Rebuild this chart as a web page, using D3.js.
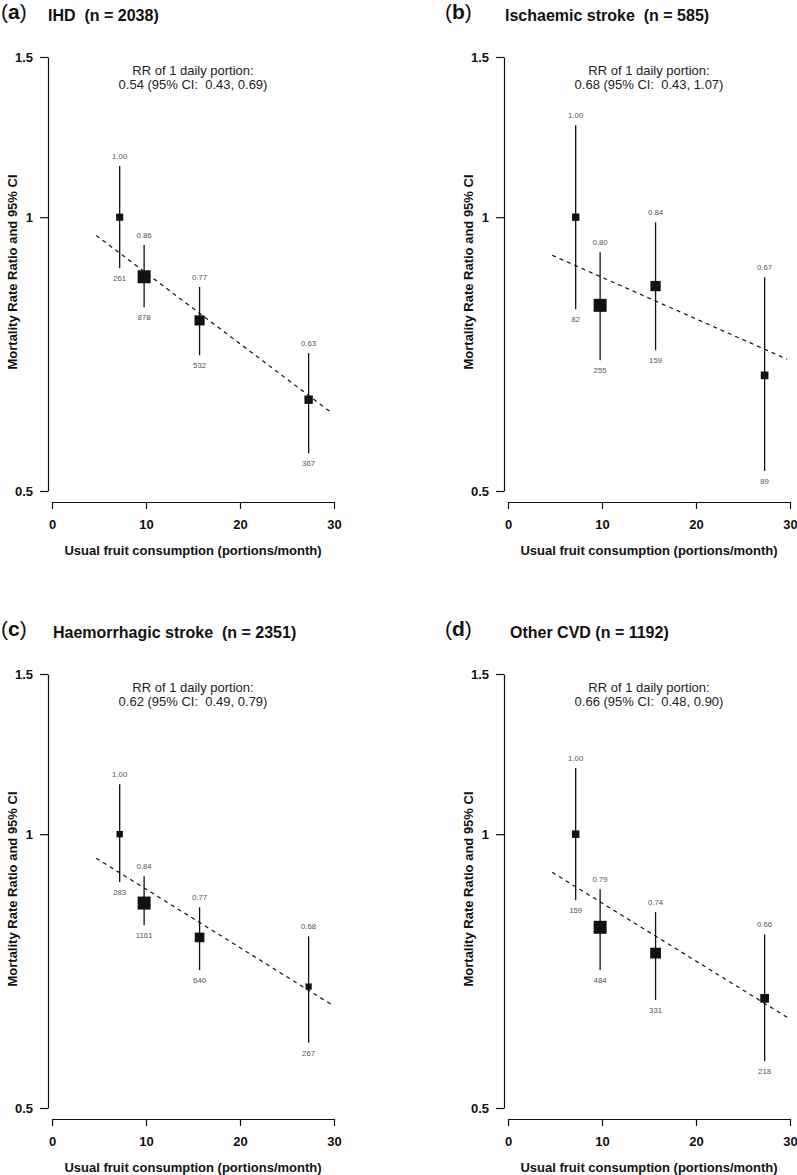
<!DOCTYPE html>
<html>
<head>
<meta charset="utf-8">
<script src="https://cdn.jsdelivr.net/npm/d3@7"></script>
<style>
body { margin: 0; background: #fff; }
svg { display: block; font-family: "Liberation Sans", Arial, Helvetica, sans-serif; }
</style>
</head>
<body>
<script>
//数据
var consumption = [7.2, 9.8, 15.7, 27.3];
var panelLetters = ["a", "b", "c", "d"];
var panelTitles = ["IHD  (n = 2038)", "Ischaemic stroke  (n = 585)", "Haemorrhagic stroke  (n = 2351)", "Other CVD (n = 1192)"];
var rrDaily = [0.54, 0.68, 0.62, 0.66];
var rrDailyLo = [0.43, 0.43, 0.49, 0.48];
var rrDailyHi = [0.69, 1.07, 0.79, 0.90];

var ihdRR = [1.00, 0.86, 0.77, 0.63];
var ihdLo = [0.879, 0.796, 0.705, 0.550];
var ihdHi = [1.138, 0.932, 0.838, 0.709];
var ihdDeaths = [261, 878, 532, 367];
var ihdTrend = [0.955, 0.610];

var ischRR = [1.00, 0.80, 0.84, 0.67];
var ischLo = [0.792, 0.696, 0.714, 0.526];
var ischHi = [1.262, 0.915, 0.987, 0.859];
var ischDeaths = [82, 255, 159, 89];
var ischTrend = [0.908, 0.698];

var haemRR = [1.00, 0.84, 0.77, 0.68];
var haemLo = [0.886, 0.794, 0.709, 0.590];
var haemHi = [1.135, 0.899, 0.831, 0.772];
var haemDeaths = [283, 1161, 640, 267];
var haemTrend = [0.941, 0.650];

var otherRR = [1.00, 0.79, 0.74, 0.66];
var otherLo = [0.846, 0.709, 0.657, 0.563];
var otherHi = [1.182, 0.870, 0.821, 0.776];
var otherDeaths = [159, 484, 331, 218];
var otherTrend = [0.908, 0.629];

var trendX = [4.7, 29.7];
var xTicks = [0, 10, 20, 30];
var yTicks = [0.5, 1, 1.5];
var yTickLabels = ["0.5", "1", "1.5"];

var panels = [
    { rr: ihdRR, lo: ihdLo, hi: ihdHi, deaths: ihdDeaths, trend: ihdTrend },
    { rr: ischRR, lo: ischLo, hi: ischHi, deaths: ischDeaths, trend: ischTrend },
    { rr: haemRR, lo: haemLo, hi: haemHi, deaths: haemDeaths, trend: haemTrend },
    { rr: otherRR, lo: otherLo, hi: otherHi, deaths: otherDeaths, trend: otherTrend }
];

//布局
var width = 797;
var height = 1175;
var colX = [0, 456];
var rowY = [0, 617];
var letterX = [1, 445];
var titleX = [48, 505, 53, 510];

var svg = d3.select("body").append("svg").attr("width", width).attr("height", height);
svg.append("rect").attr("width", width).attr("height", height).attr("fill", "#fff");

var x = d3.scaleLinear().domain([0, 30]).range([52, 334]);
var y = d3.scaleLog().domain([0.5, 1.5]).range([491, 57]);
var fmt = d3.format(".2f");

panels.forEach(function (p, i) {
    var col = i % 2;
    var row = Math.floor(i / 2);
    var g = svg.append("g").attr("transform", "translate(" + colX[col] + "," + rowY[row] + ")");
    var size = d3.scaleSqrt().domain([0, d3.max(p.deaths)]).range([0, 13]);

    //面板标题
    var letter = g.append("text")
        .attr("x", letterX[col] - colX[col])
        .attr("y", 19)
        .style("font-size", "21px")
        .style("fill", "#111");
    letter.append("tspan").text("(");
    letter.append("tspan").style("font-weight", "bold").text(panelLetters[i]);
    letter.append("tspan").text(")");

    g.append("text")
        .attr("x", titleX[i] - colX[col])
        .attr("y", 21)
        .style("font-size", "16px")
        .style("font-weight", "bold")
        .style("white-space", "pre")
        .style("fill", "#111")
        .text(panelTitles[i]);

    //RR文字
    var rrText = g.append("text")
        .attr("text-anchor", "middle")
        .style("font-size", "13px")
        .style("white-space", "pre")
        .style("fill", "#222");
    rrText.append("tspan").attr("x", 193).attr("y", 75).text("RR of 1 daily portion:");
    rrText.append("tspan").attr("x", 193).attr("y", 89)
        .text(fmt(rrDaily[i]) + " (95% CI:  " + fmt(rrDailyLo[i]) + ", " + fmt(rrDailyHi[i]) + ")");

    //坐标轴
    var yAxis = g.append("g").attr("transform", "translate(48,0)")
        .call(d3.axisLeft(y).tickValues(yTicks).tickFormat(function (d, k) { return yTickLabels[k]; })
            .tickSize(8).tickSizeOuter(0).tickPadding(7));
    var xAxis = g.append("g").attr("transform", "translate(0,502)")
        .call(d3.axisBottom(x).tickValues(xTicks).tickFormat(d3.format("d"))
            .tickSize(7).tickSizeOuter(0).tickPadding(11));
    [yAxis, xAxis].forEach(function (a) {
        a.attr("font-family", null).attr("font-size", null);
        a.selectAll("text").style("font-size", "13px").style("font-weight", "bold").style("fill", "#111");
        a.selectAll("path, line").style("stroke", "#111").style("stroke-width", 1.2);
    });

    g.append("text")
        .attr("x", 193)
        .attr("y", 555)
        .attr("text-anchor", "middle")
        .style("font-size", "13px")
        .style("font-weight", "bold")
        .style("fill", "#111")
        .text("Usual fruit consumption (portions/month)");
    g.append("text")
        .attr("transform", "translate(16.5,272) rotate(-90)")
        .attr("text-anchor", "middle")
        .style("font-size", "13px")
        .style("font-weight", "bold")
        .style("fill", "#111")
        .text("Mortality Rate Ratio and 95% CI");

    //趋势线
    g.append("line")
        .attr("x1", x(trendX[0])).attr("y1", y(p.trend[0]))
        .attr("x2", x(trendX[1])).attr("y2", y(p.trend[1]))
        .style("stroke", "#111")
        .style("stroke-width", 1.2)
        .style("stroke-dasharray", "4,4");

    //置信区间
    g.selectAll("line.ci").data(consumption).enter().append("line").classed("ci", true)
        .attr("x1", function (d) { return x(d); })
        .attr("x2", function (d) { return x(d); })
        .attr("y1", function (d, k) { return y(p.hi[k]); })
        .attr("y2", function (d, k) { return y(p.lo[k]); })
        .style("stroke", "#111")
        .style("stroke-width", 1.3);

    //方块
    g.selectAll("rect.pt").data(consumption).enter().append("rect").classed("pt", true)
        .attr("x", function (d, k) { return x(d) - size(p.deaths[k]) / 2; })
        .attr("y", function (d, k) { return y(p.rr[k]) - size(p.deaths[k]) / 2; })
        .attr("width", function (d, k) { return size(p.deaths[k]); })
        .attr("height", function (d, k) { return size(p.deaths[k]); })
        .style("fill", "#111");

    //数值标签
    g.selectAll("text.rr").data(consumption).enter().append("text").classed("rr", true)
        .attr("x", function (d) { return x(d); })
        .attr("y", function (d, k) { return y(p.hi[k]) - 7; })
        .attr("text-anchor", "middle")
        .style("font-size", "7.8px")
        .style("fill", "#555")
        .text(function (d, k) { return fmt(p.rr[k]); });
    g.selectAll("text.n").data(consumption).enter().append("text").classed("n", true)
        .attr("x", function (d) { return x(d); })
        .attr("y", function (d, k) { return y(p.lo[k]) + 13; })
        .attr("text-anchor", "middle")
        .style("font-size", "7.8px")
        .style("fill", "#555")
        .text(function (d, k) { return p.deaths[k]; });
});
</script>
</body>
</html>
